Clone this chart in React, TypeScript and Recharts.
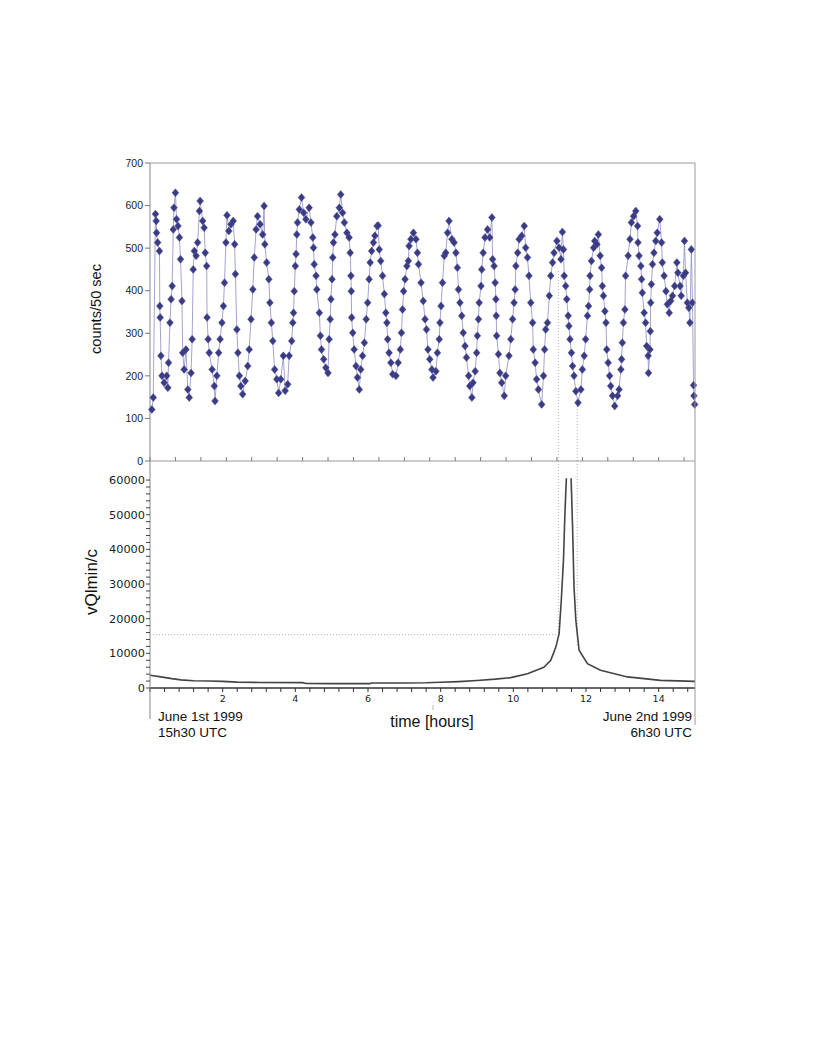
import React from 'react';
import { ComposedChart, Line, XAxis, YAxis, ReferenceLine } from 'recharts';

const FONT = '"Liberation Sans", Arial, sans-serif';
const TICK_FONT = '"DejaVu Sans", sans-serif';

// counts per 50 sec bin: [hours since 15h30 UTC, counts]
const countPoints: [number, number][] = [
  [0.05, 121], [0.09, 149], [0.15, 580], [0.17, 564], [0.18, 536], [0.21, 513], [0.26, 493], [0.27, 364],
  [0.28, 337], [0.3, 247], [0.33, 200], [0.39, 184], [0.46, 200], [0.49, 172], [0.51, 231], [0.55, 325],
  [0.58, 380], [0.61, 411], [0.64, 544], [0.66, 595], [0.7, 630], [0.73, 568], [0.77, 552], [0.81, 525],
  [0.84, 474], [0.88, 376], [0.9, 254], [0.94, 215], [0.99, 262], [1.04, 168], [1.08, 149], [1.13, 207],
  [1.16, 286], [1.19, 450], [1.22, 493], [1.27, 482], [1.31, 513], [1.36, 587], [1.38, 611], [1.45, 564],
  [1.49, 548], [1.52, 489], [1.56, 458], [1.57, 337], [1.6, 286], [1.63, 254], [1.71, 215], [1.77, 176],
  [1.79, 141], [1.84, 200], [1.89, 254], [1.93, 286], [1.98, 325], [2.02, 364], [2.05, 419], [2.09, 513],
  [2.12, 577], [2.17, 540], [2.23, 556], [2.29, 564], [2.33, 509], [2.35, 439], [2.39, 309], [2.42, 254],
  [2.46, 200], [2.5, 176], [2.55, 157], [2.62, 188], [2.69, 223], [2.73, 262], [2.78, 333], [2.83, 403],
  [2.87, 478], [2.92, 544], [2.96, 575], [3.03, 556], [3.1, 532], [3.14, 599], [3.16, 509], [3.21, 466],
  [3.27, 427], [3.3, 372], [3.34, 325], [3.38, 282], [3.43, 215], [3.49, 192], [3.54, 160], [3.6, 192],
  [3.67, 247], [3.72, 165], [3.79, 180], [3.83, 247], [3.9, 282], [3.93, 325], [3.95, 348], [3.97, 399],
  [4.0, 458], [4.02, 486], [4.04, 532], [4.06, 560], [4.11, 591], [4.17, 619], [4.23, 583], [4.29, 568],
  [4.38, 595], [4.43, 560], [4.48, 525], [4.5, 501], [4.52, 462], [4.57, 435], [4.59, 403], [4.66, 348],
  [4.69, 294], [4.72, 262], [4.78, 239], [4.84, 219], [4.9, 207], [4.93, 286], [4.96, 333], [4.98, 380],
  [5.01, 427], [5.03, 478], [5.05, 513], [5.09, 532], [5.14, 575], [5.21, 595], [5.25, 626], [5.3, 583],
  [5.35, 560], [5.42, 536], [5.48, 525], [5.51, 489], [5.53, 435], [5.54, 399], [5.55, 337], [5.58, 301],
  [5.62, 262], [5.67, 223], [5.71, 196], [5.76, 168], [5.8, 215], [5.85, 247], [5.9, 278], [5.95, 333],
  [5.99, 372], [6.03, 427], [6.06, 466], [6.1, 493], [6.15, 513], [6.19, 529], [6.25, 552], [6.28, 553],
  [6.31, 497], [6.35, 470], [6.4, 435], [6.45, 392], [6.49, 348], [6.52, 325], [6.54, 286], [6.58, 254],
  [6.63, 231], [6.68, 204], [6.77, 200], [6.83, 231], [6.89, 262], [6.92, 301], [6.95, 356], [6.98, 399],
  [7.02, 427], [7.07, 458], [7.11, 470], [7.13, 505], [7.18, 521], [7.25, 536], [7.32, 521], [7.36, 489],
  [7.39, 462], [7.46, 419], [7.52, 376], [7.57, 333], [7.61, 309], [7.65, 262], [7.7, 239], [7.76, 215],
  [7.79, 196], [7.87, 211], [7.91, 254], [7.96, 286], [7.98, 325], [8.01, 364], [8.05, 419], [8.1, 482],
  [8.14, 489], [8.19, 536], [8.23, 564], [8.31, 521], [8.37, 513], [8.42, 489], [8.46, 454], [8.49, 403],
  [8.53, 372], [8.58, 341], [8.62, 301], [8.67, 270], [8.71, 243], [8.77, 200], [8.8, 176], [8.86, 149],
  [8.89, 184], [8.95, 211], [8.99, 254], [9.01, 294], [9.04, 333], [9.06, 372], [9.11, 411], [9.13, 450],
  [9.17, 489], [9.22, 525], [9.29, 544], [9.35, 525], [9.41, 572], [9.43, 474], [9.47, 458], [9.5, 419],
  [9.52, 380], [9.53, 341], [9.54, 294], [9.59, 251], [9.63, 207], [9.68, 184], [9.75, 153], [9.79, 200],
  [9.88, 247], [9.93, 286], [9.98, 333], [10.02, 372], [10.05, 403], [10.07, 458], [10.12, 489], [10.16, 521],
  [10.23, 529], [10.3, 552], [10.34, 501], [10.39, 478], [10.43, 435], [10.48, 372], [10.53, 325], [10.55, 262],
  [10.6, 231], [10.64, 192], [10.69, 168], [10.78, 133], [10.83, 200], [10.86, 262], [10.89, 309], [10.94, 325],
  [10.99, 388], [11.03, 435], [11.08, 466], [11.12, 489], [11.2, 517], [11.26, 501], [11.31, 474], [11.35, 538],
  [11.38, 497], [11.4, 435], [11.44, 411], [11.47, 380], [11.51, 341], [11.53, 317], [11.56, 286], [11.6, 254],
  [11.63, 223], [11.67, 200], [11.72, 164], [11.78, 137], [11.86, 168], [11.9, 215], [11.95, 247], [11.99, 286],
  [12.04, 341], [12.07, 364], [12.1, 403], [12.11, 435], [12.15, 470], [12.21, 501], [12.24, 517], [12.3, 509],
  [12.34, 532], [12.39, 482], [12.43, 454], [12.45, 411], [12.48, 388], [12.52, 352], [12.55, 325], [12.57, 262],
  [12.61, 231], [12.65, 200], [12.68, 176], [12.73, 153], [12.79, 129], [12.87, 153], [12.91, 168], [12.96, 215],
  [12.98, 239], [13.0, 278], [13.03, 325], [13.07, 356], [13.09, 435], [13.16, 482], [13.21, 521], [13.25, 560],
  [13.31, 575], [13.37, 587], [13.42, 552], [13.43, 513], [13.46, 482], [13.51, 458], [13.53, 427], [13.55, 395],
  [13.6, 348], [13.64, 325], [13.67, 270], [13.71, 247], [13.72, 207], [13.76, 262], [13.77, 305], [13.78, 372],
  [13.8, 415], [13.83, 462], [13.87, 489], [13.92, 517], [13.96, 536], [14.03, 568], [14.08, 513], [14.1, 466],
  [14.15, 435], [14.2, 399], [14.24, 368], [14.29, 348], [14.33, 376], [14.38, 388], [14.44, 411], [14.5, 466],
  [14.53, 442], [14.59, 411], [14.62, 388], [14.68, 435], [14.71, 517], [14.74, 442], [14.79, 372], [14.83, 360],
  [14.86, 325], [14.9, 497], [14.93, 372], [14.96, 178], [14.97, 153], [14.99, 133],
];

// vQlmin/c curve: [hours, value]; null = off scale at the singularity
const vqPoints: [number, number | null][] = [
  [0, 3700], [0.3, 3200], [0.6, 2700], [0.85, 2350], [1.2, 2100], [1.6, 2000], [2.0, 1900], [2.4, 1700],
  [3.0, 1600], [4.2, 1550], [4.3, 1300], [5.0, 1250], [6.05, 1250], [6.1, 1450], [7.0, 1450], [7.6, 1500],
  [8.0, 1650], [8.5, 1850], [9.0, 2150], [9.5, 2550], [9.93, 3000], [10.39, 4100], [10.84, 6000], [11.03, 8000],
  [11.17, 11800], [11.26, 15700], [11.32, 25300], [11.38, 36900], [11.42, 50400], [11.46, 60500], [11.52, null],
  [11.59, 60500], [11.63, 46500], [11.67, 29200], [11.72, 19600], [11.81, 10900], [12.04, 7000], [12.4, 5100],
  [13.14, 3200], [14.05, 2200], [15, 1900],
];

const countTicks = [0, 100, 200, 300, 400, 500, 600, 700];
const vqLabelTicks = [0, 10000, 20000, 30000, 40000, 50000, 60000];
const hourLabels = [2, 4, 6, 8, 10, 12, 14];

// axis tick positions (decoration only)
const topXTicks = Array.from({ length: 22 }, (_, i) => +(i * 0.7).toFixed(2));
const bottomXTicks = Array.from({ length: 38 }, (_, i) => +(i * 0.4).toFixed(2));
const vqYTicks = Array.from({ length: 31 }, (_, i) => i * 2000);

const countData = countPoints.map(([h, c]) => ({ h, c }));
const vqData = vqPoints.map(([h, v]) => ({ h, v }));

const renderDiamond = (p: any) => {
  const { cx, cy, index } = p;
  if (cx == null || cy == null) return <g key={index} />;
  return (
    <path
      key={index}
      d={`M${cx},${cy - 4}L${cx + 3.4},${cy}L${cx},${cy + 4}L${cx - 3.4},${cy}Z`}
      fill="#3b3b84"
      stroke="#55559c"
      strokeWidth={0.5}
    />
  );
};

const VqYTick = (p: any) => {
  const { x, y, payload } = p;
  if (!vqLabelTicks.includes(payload.value)) return <g />;
  return (
    <text x={x} y={y} dy={4} textAnchor="end" fontSize={11.3} fontFamily={TICK_FONT} fill="#222">
      {payload.value}
    </text>
  );
};

const HourTick = (p: any) => {
  const { x, y, payload } = p;
  const lab = hourLabels.find((l) => Math.abs(l - payload.value) < 0.01);
  if (lab === undefined) return <g />;
  return (
    <text x={x} y={y} dy={8} textAnchor="middle" fontSize={9.5} fontFamily={TICK_FONT} fill="#222">
      {lab}
    </text>
  );
};

const dotted = { stroke: '#b4b4b4', strokeDasharray: '1 2', strokeWidth: 1 };

export default function App() {
  return (
    <div style={{ position: 'absolute', left: 0, top: 0, width: 817, height: 1058, background: '#fff' }}>
      <div style={{ position: 'absolute', left: 0, top: 0 }}>
        <ComposedChart width={817} height={481} data={countData} margin={{ top: 163, right: 122, bottom: 20, left: 100 }}>
          <XAxis
            type="number"
            dataKey="h"
            domain={[0, 15]}
            ticks={topXTicks}
            interval={0}
            mirror
            tickSize={4}
            tickFormatter={() => ''}
            height={10}
            axisLine={{ stroke: '#9a9a9a' }}
            tickLine={{ stroke: '#777' }}
          />
          <YAxis
            type="number"
            domain={[0, 700]}
            ticks={countTicks}
            interval={0}
            width={50}
            tickSize={5}
            tick={{ fontSize: 10.5, fill: '#222', fontFamily: FONT }}
            axisLine={{ stroke: '#888' }}
            tickLine={{ stroke: '#777' }}
          />
          <ReferenceLine y={700} stroke="#9a9a9a" />
          <ReferenceLine segment={[{ x: 11.24, y: 0 }, { x: 11.24, y: 450 }]} {...dotted} />
          <ReferenceLine segment={[{ x: 11.76, y: 0 }, { x: 11.76, y: 130 }]} {...dotted} />
          <Line
            dataKey="c"
            type="linear"
            stroke="#8d8dc8"
            strokeWidth={0.8}
            dot={renderDiamond}
            activeDot={false}
            isAnimationActive={false}
          />
        </ComposedChart>
      </div>
      <div style={{ position: 'absolute', left: 0, top: 0 }}>
        <ComposedChart width={817} height={720} data={vqData} margin={{ top: 461, right: 122, bottom: 12, left: 100 }}>
          <XAxis
            type="number"
            dataKey="h"
            domain={[0, 15]}
            ticks={bottomXTicks}
            interval={0}
            tickSize={4}
            tickMargin={2}
            tick={<HourTick />}
            height={20}
            axisLine={{ stroke: '#333', strokeWidth: 1.6 }}
            tickLine={{ stroke: '#333' }}
          />
          <YAxis
            type="number"
            domain={[0, 65500]}
            ticks={vqYTicks}
            interval={0}
            width={50}
            tickSize={4}
            tickMargin={1}
            tick={<VqYTick />}
            axisLine={{ stroke: '#888' }}
            tickLine={{ stroke: '#444' }}
          />
          <ReferenceLine segment={[{ x: 0, y: 15400 }, { x: 11.26, y: 15400 }]} {...dotted} />
          <ReferenceLine segment={[{ x: 11.24, y: 65500 }, { x: 11.24, y: 15600 }]} {...dotted} />
          <ReferenceLine segment={[{ x: 11.76, y: 65500 }, { x: 11.76, y: 12000 }]} {...dotted} />
          <Line
            dataKey="v"
            type="linear"
            stroke="#444"
            strokeWidth={1.6}
            dot={false}
            activeDot={false}
            connectNulls={false}
            isAnimationActive={false}
          />
        </ComposedChart>
      </div>
      <svg width={817} height={1058} style={{ position: 'absolute', left: 0, top: 0, pointerEvents: 'none' }}>
        <line x1={695} y1={163} x2={695} y2={725} stroke="#9a9a9a" />
        <line x1={150} y1={688} x2={150} y2={719} stroke="#888" />
        <line x1={433} y1={705} x2={433} y2={710} stroke="#bbb" />
        <text
          transform="translate(101,309) rotate(-90)"
          textAnchor="middle"
          fontSize={14.6}
          fontFamily={FONT}
          fill="#111"
        >
          counts/50 sec
        </text>
        <text
          transform="translate(97,582) rotate(-90)"
          textAnchor="middle"
          fontSize={17}
          fontFamily={FONT}
          fill="#111"
        >
          vQlmin/c
        </text>
        <text x={158} y={721} fontSize={13.5} fontFamily={FONT} fill="#111">June 1st 1999</text>
        <text x={158} y={737} fontSize={13.5} fontFamily={FONT} fill="#111">15h30 UTC</text>
        <text x={432} y={727} textAnchor="middle" fontSize={16} fontFamily={FONT} fill="#111">time [hours]</text>
        <text x={692} y={721} textAnchor="end" fontSize={13.5} fontFamily={FONT} fill="#111">June 2nd 1999</text>
        <text x={692} y={737} textAnchor="end" fontSize={13.5} fontFamily={FONT} fill="#111">6h30 UTC</text>
      </svg>
    </div>
  );
}
